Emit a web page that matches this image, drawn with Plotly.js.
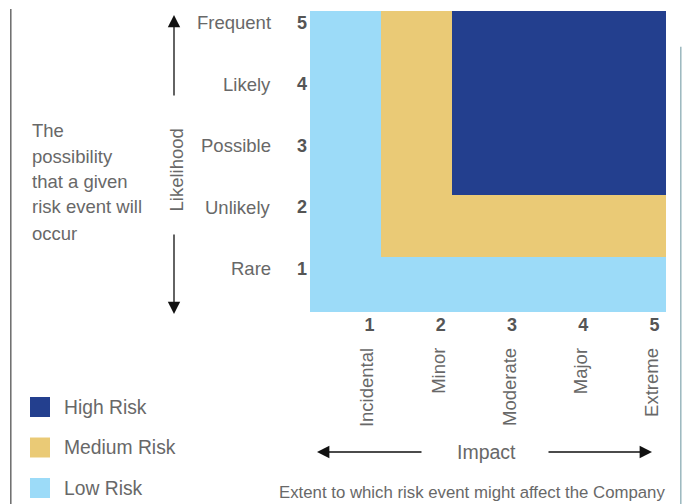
<!DOCTYPE html>
<html>
<head>
<meta charset="utf-8">
<script src="https://cdn.plot.ly/plotly-3.0.1.min.js"></script>
<style>html,body{margin:0;padding:0;background:#fff;}#chart{width:699px;height:504px;}</style>
</head>
<body>
<div id="chart"></div>
<script>
// ---- data ----
const impactLevels = [1, 2, 3, 4, 5];
const impactNames = ["Incidental", "Minor", "Moderate", "Major", "Extreme"];
const likelihoodLevels = [1, 2, 3, 4, 5];
const likelihoodNames = ["Rare", "Unlikely", "Possible", "Likely", "Frequent"];
// risk level per cell: rows = likelihood 1..5, columns = impact 1..5 (1 low, 2 medium, 3 high)
const riskRow1 = [1, 1, 1, 1, 1];
const riskRow2 = [1, 2, 2, 2, 2];
const riskRow3 = [1, 2, 3, 3, 3];
const riskRow4 = [1, 2, 3, 3, 3];
const riskRow5 = [1, 2, 3, 3, 3];
const riskNames = ["Low Risk", "Medium Risk", "High Risk"];
const riskColors = ["#9cdbf8", "#eaca76", "#233f8e"];
const riskLevels = [1, 2, 3];
const descriptionLines = ["The", "possibility", "that a given", "risk event will", "occur"];
const yTitle = "Likelihood";
const xTitle = "Impact";
const xSubtitle = "Extent to which risk event might affect the Company";

// ---- helpers ----
const W = 699, H = 504;
const px = x => x / W;
const py = y => 1 - y / H;
const FONT = "Liberation Sans, Arial, sans-serif";
const TXT = "#686868";
const NUM = "#555555";

const z = [riskRow1, riskRow2, riskRow3, riskRow4, riskRow5];
const n = riskColors.length;
const colorscale = [];
riskColors.forEach((c, i) => { colorscale.push([i / n, c]); colorscale.push([(i + 1) / n, c]); });

const heat = {
  type: "heatmap",
  x: impactLevels, y: likelihoodLevels, z: z,
  zmin: 0.5, zmax: n + 0.5,
  colorscale: colorscale, showscale: false, hoverinfo: "skip",
  xaxis: "x", yaxis: "y"
};

const legendTrace = {
  type: "scatter", mode: "markers",
  x: riskLevels.map(() => 0), y: riskLevels,
  marker: {symbol: "square", size: 20, color: riskColors, line: {width: 0}},
  hoverinfo: "skip", cliponaxis: false,
  xaxis: "x2", yaxis: "y2"
};

const annotations = [];
// legend labels
riskLevels.forEach((v, i) => annotations.push({
  xref: "paper", yref: "y2", x: px(61.5), y: v,
  xanchor: "left", yanchor: "middle", showarrow: false,
  text: riskNames[i], font: {family: FONT, size: 19.3, color: TXT}
}));
// likelihood words
likelihoodLevels.forEach((v, i) => annotations.push({
  xref: "paper", yref: "y", x: px(273), y: v, yshift: 19,
  xanchor: "right", yanchor: "middle", showarrow: false,
  text: likelihoodNames[i], font: {family: FONT, size: 18.5, color: TXT}
}));
// impact words
impactLevels.forEach((v, i) => annotations.push({
  xref: "x", yref: "paper", x: v, xshift: 21, y: py(346), textangle: -90,
  xanchor: "center", yanchor: "top", showarrow: false,
  text: impactNames[i], font: {family: FONT, size: 18.5, color: TXT}
}));
// description
const descY = [130, 156.7, 181.7, 206.7, 233];
descriptionLines.forEach((t, i) => annotations.push({
  xref: "paper", yref: "paper", x: px(30), y: py(descY[i]),
  xanchor: "left", yanchor: "middle", showarrow: false,
  text: t, font: {family: FONT, size: 18.5, color: TXT}
}));
// Likelihood title
annotations.push({xref: "paper", yref: "paper", x: px(175.5), y: py(170), textangle: -90,
  xanchor: "center", yanchor: "middle", showarrow: false,
  text: yTitle, font: {family: FONT, size: 18.5, color: TXT}});
// Impact title
annotations.push({xref: "paper", yref: "paper", x: px(486.5), y: py(452),
  xanchor: "center", yanchor: "middle", showarrow: false,
  text: xTitle, font: {family: FONT, size: 19.5, color: TXT}});
// subtitle
annotations.push({xref: "paper", yref: "paper", x: px(471.5), y: py(492),
  xanchor: "center", yanchor: "middle", showarrow: false,
  text: xSubtitle, font: {family: FONT, size: 16.8, color: TXT}});
// arrows
const arrowStyle = {showarrow: true, text: "", arrowhead: 2, arrowsize: 1.9, arrowwidth: 1.3,
  arrowcolor: "#111", standoff: 0, axref: "pixel", ayref: "pixel", xref: "paper", yref: "paper"};
annotations.push(Object.assign({}, arrowStyle, {x: px(174), y: py(15), ax: 0, ay: 82}));
annotations.push(Object.assign({}, arrowStyle, {x: px(174), y: py(314), ax: 0, ay: -81}));
annotations.push(Object.assign({}, arrowStyle, {x: px(317), y: py(452), ax: 106, ay: 0}));
annotations.push(Object.assign({}, arrowStyle, {x: px(652), y: py(452), ax: -105, ay: 0}));

const shapes = [
  {type: "line", xref: "paper", yref: "paper", x0: px(10.8), x1: px(10.8), y0: py(9), y1: 0,
   line: {color: "#6a6a6a", width: 1.5}},
  {type: "line", xref: "paper", yref: "paper", x0: px(680.8), x1: px(680.8), y0: py(46.7), y1: 0,
   line: {color: "#9ab7be", width: 1.5}}
];

const layout = {
  width: W, height: H,
  margin: {l: 0, r: 0, t: 0, b: 0, pad: 0},
  paper_bgcolor: "#ffffff", plot_bgcolor: "#ffffff",
  showlegend: false,
  font: {family: FONT, color: TXT},
  xaxis: {
    domain: [px(310), px(666)], range: [0.5, 5.5],
    tickmode: "array", tickvals: impactLevels, ticktext: impactLevels.map(v => "<b>" + v + "</b>"),
    ticks: "", showgrid: false, zeroline: false, showline: false,
    tickfont: {family: FONT, size: 18, color: NUM},
    ticklabelshift: 24, ticklabelstandoff: 0, fixedrange: true
  },
  yaxis: {
    domain: [py(312), py(11)], range: [0.6, 5.5],
    tickmode: "array", tickvals: likelihoodLevels, ticktext: likelihoodLevels.map(v => "<b>" + v + "</b>"),
    ticks: "", showgrid: false, zeroline: false, showline: false,
    tickfont: {family: FONT, size: 18, color: NUM},
    ticklabelshift: -19, ticklabelstandoff: 2, fixedrange: true
  },
  xaxis2: {domain: [px(30), px(130)], range: [-0.5, 4.5], visible: false, fixedrange: true},
  yaxis2: {domain: [0, py(387)], range: [0.605, 3.494], visible: false, fixedrange: true},
  annotations: annotations,
  shapes: shapes
};

Plotly.newPlot("chart", [heat, legendTrace], layout, {displayModeBar: false, staticPlot: true});
</script>
</body>
</html>
